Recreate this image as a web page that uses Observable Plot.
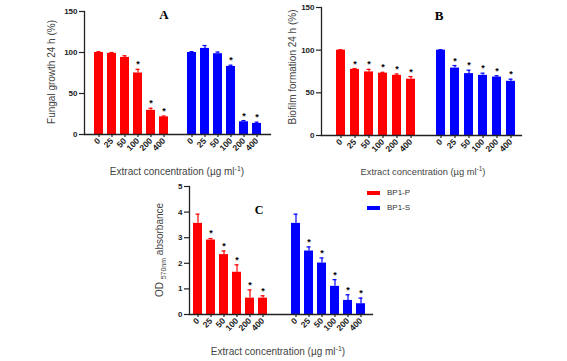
<!DOCTYPE html>
<html>
<head>
<meta charset="utf-8">
<script src="https://cdn.jsdelivr.net/npm/d3@7"></script>
<script src="https://cdn.jsdelivr.net/npm/@observablehq/plot@0.6"></script>
<style>
  html, body { margin: 0; padding: 0; background: #fff; }
  #fig { position: relative; width: 567px; height: 361px; overflow: hidden; background: #fff;
         font-family: Arial, "Liberation Sans", Helvetica, sans-serif; }
  .panel { position: absolute; }
  .lbl { position: absolute; white-space: nowrap; line-height: 1; color: #444; font-size: 10px; }
  .c { transform: translate(-50%, -50%); }
  .r { transform: translate(-50%, -50%) rotate(-90deg); }
  .letter { position: absolute; font-family: "Times New Roman", "Liberation Serif", serif; font-weight: bold;
            font-size: 13px; color: #000; transform: translate(-50%, -100%); line-height: 1; }
  .leg { position: absolute; font-size: 8px; color: #333; line-height: 1; white-space: nowrap; }
  .sw { display: inline-block; width: 13px; height: 4px; vertical-align: middle; margin-right: 7px; }
  sup, sub { font-size: 70%; line-height: 0; }
</style>
</head>
<body>
<div id="fig">
  <div class="panel" id="pa" style="left:0px;top:0px"></div>
  <div class="panel" id="pb" style="left:285px;top:0px"></div>
  <div class="panel" id="pc" style="left:140px;top:175px"></div>

  <div class="lbl r" style="left:52px;top:72px">Fungal growth 24 h (%)</div>
  <div class="lbl c" style="left:177px;top:172px">Extract concentration (µg ml<sup>-1</sup>)</div>
  <div class="lbl r" style="left:293px;top:67px">Biofilm formation 24 h (%)</div>
  <div class="lbl c" style="left:423px;top:173px;font-size:9.3px">Extract concentration (µg ml<sup>-1</sup>)</div>
  <div class="lbl r" style="left:160px;top:250px">OD <sub>570nm</sub> absorbance</div>
  <div class="lbl c" style="left:278px;top:352px">Extract concentration (µg ml<sup>-1</sup>)</div>

  <div class="letter" style="left:164px;top:21px">A</div>
  <div class="letter" style="left:439px;top:22px">B</div>
  <div class="letter" style="left:259px;top:216px;font-size:12px">C</div>

  <div class="leg" id="leg" style="left:367px;top:189px"></div>
</div>
<script>
// ---------- data ----------
const concentrations = ["0", "25", "50", "100", "200", "400"];
const seriesNames = ["BP1-P", "BP1-S"];

// Panel A: fungal growth 24 h (%)
const fungalP   = [100, 99, 94, 75, 29.5, 21.5];
const fungalPsd = [1, 1, 2, 4.5, 2.5, 1];
const fungalS   = [100, 105, 98.5, 83, 15.5, 13.5];
const fungalSsd = [1, 3.5, 2, 1.5, 1.5, 1.5];
const fungalPsig = [0, 0, 0, 1, 1, 1];
const fungalSsig = [0, 0, 0, 1, 1, 1];
const yTicksA = [0, 50, 100, 150];

// Panel B: biofilm formation 24 h (%)
const biofilmP   = [100, 77.5, 74.5, 73, 70.5, 66];
const biofilmPsd = [0.5, 1, 3, 1, 1.5, 3];
const biofilmS   = [100, 79, 72.5, 70.5, 68.5, 63.5];
const biofilmSsd = [0.5, 3, 4, 2.5, 1.5, 2.5];
const biofilmPsig = [0, 1, 1, 1, 1, 1];
const biofilmSsig = [0, 1, 1, 1, 1, 1];
const yTicksB = [0, 50, 100, 150];

// Panel C: OD 570nm absorbance
const odP   = [3.56, 2.91, 2.34, 1.65, 0.64, 0.64];
const odPsd = [0.36, 0.06, 0.14, 0.29, 0.32, 0.09];
const odS   = [3.56, 2.48, 2.01, 1.10, 0.55, 0.42];
const odSsd = [0.36, 0.16, 0.20, 0.26, 0.22, 0.22];
const odPsig = [0, 1, 1, 1, 1, 1];
const odSsig = [0, 1, 1, 1, 1, 1];
const yTicksC = [0, 1, 2, 3, 4, 5];

// ---------- helpers ----------
function table(pv, psd, psig, sv, ssd, ssig) {
  const rows = [];
  concentrations.forEach((c, i) => rows.push({series: seriesNames[0], conc: c, value: pv[i], sd: psd[i], sig: psig[i]}));
  concentrations.forEach((c, i) => rows.push({series: seriesNames[1], conc: c, value: sv[i], sd: ssd[i], sig: ssig[i]}));
  return rows;
}
const colors = ["#ff0000", "#0000ff"];
const ink = "#222";

function panel(data, opts) {
  const top = d => d.value + d.sd;
  return Plot.plot({
    width: opts.width, height: opts.height,
    marginLeft: opts.ml, marginRight: opts.mr, marginTop: opts.mt, marginBottom: opts.mb,
    style: {fontFamily: 'Arial, "Liberation Sans", Helvetica, sans-serif', color: ink, background: "transparent", overflow: "visible"},
    fx: {domain: seriesNames, paddingInner: opts.fxPad, paddingOuter: 0, axis: null, label: null},
    x: {domain: concentrations, paddingInner: opts.pi, paddingOuter: opts.po, align: opts.align, label: null},
    y: {domain: opts.yDomain, label: null},
    color: {domain: seriesNames, range: colors},
    marks: [
      Plot.barY(data, {fx: "series", x: "conc", y: "value", fill: "series"}),
      Plot.ruleX(data, {fx: "series", x: "conc", y1: "value", y2: top, stroke: "series", strokeWidth: 1.2}),
      Plot.tickY(data, {fx: "series", x: "conc", y: top, stroke: "series", strokeWidth: 1.2, insetLeft: 2.5, insetRight: 2.5}),
      Plot.text(data.filter(d => d.sig), {fx: "series", x: "conc", y: top, text: () => "*", fill: "#000",
        fontSize: 9, fontWeight: "bold", lineAnchor: "bottom", dy: -2}),
      Plot.frame({anchor: "left", facet: "super", stroke: ink, strokeWidth: 1.3}),
      Plot.frame({anchor: "bottom", facet: "super", stroke: ink, strokeWidth: 1.3}),
      Plot.axisY({ticks: opts.yTicks, tickFormat: d => String(d), tickSize: 5, tickPadding: 2, fontSize: 8, fontWeight: "bold", label: null, strokeWidth: 1.2}),
      Plot.axisX({tickRotate: -45, tickSize: 3, tickPadding: 2, fontSize: 8.5, fontWeight: "bold", label: null, strokeWidth: 1.2})
    ]
  });
}

document.getElementById("pa").append(panel(
  table(fungalP, fungalPsd, fungalPsig, fungalS, fungalSsd, fungalSsig),
  {width: 285, height: 180, ml: 83, mr: 15, mt: 11, mb: 46, yDomain: [0, 150], yTicks: yTicksA,
   fxPad: 0, pi: 0.31, po: 0.48, align: 0.5}));

document.getElementById("pb").append(panel(
  table(biofilmP, biofilmPsd, biofilmPsig, biofilmS, biofilmSsd, biofilmSsig),
  {width: 282, height: 180, ml: 36, mr: 46, mt: 7, mb: 45, yDomain: [0, 150], yTicks: yTicksB,
   fxPad: 0, pi: 0.333, po: 0.5, align: 0.73}));

document.getElementById("pc").append(panel(
  table(odP, odPsd, odPsig, odS, odSsd, odSsig),
  {width: 240, height: 186, ml: 48, mr: 7, mt: 11, mb: 47, yDomain: [0, 5], yTicks: yTicksC,
   fxPad: 0.13, pi: 0.31, po: 0.25, align: 0.35}));

// legend
const leg = document.getElementById("leg");
seriesNames.forEach((s, i) => {
  const row = document.createElement("div");
  row.style.marginBottom = "7px";
  row.innerHTML = `<span class="sw" style="background:${colors[i]}"></span>${s}`;
  leg.append(row);
});
</script>
</body>
</html>
